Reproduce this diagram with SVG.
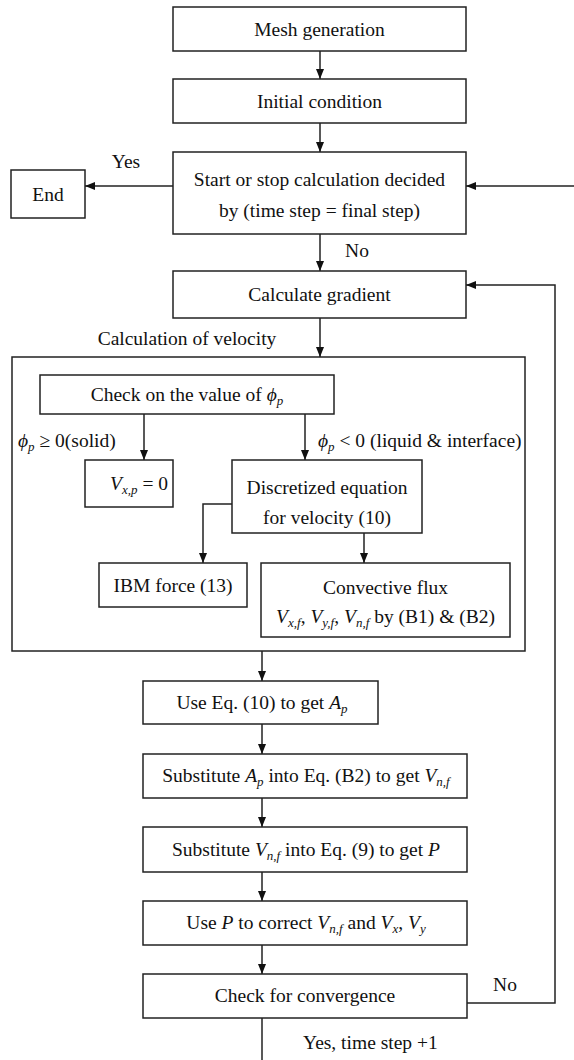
<svg xmlns="http://www.w3.org/2000/svg" width="574" height="1060" viewBox="0 0 574 1060">
<style>
.b{fill:#fff;stroke:#222;stroke-width:1.5}
.c{fill:none;stroke:#222;stroke-width:1.5}
text{font-family:"Liberation Serif","Times New Roman",serif;font-size:19.5px;fill:#111}
.m{text-anchor:middle}
.i{font-style:italic}
.s{font-style:italic;font-size:13px}
</style>
<defs>
<marker id="a" viewBox="0 0 10 10" refX="10" refY="5" markerWidth="10" markerHeight="10" markerUnits="userSpaceOnUse" orient="auto">
<path d="M0,1 L10,5 L0,9 z" fill="#111"/>
</marker>
</defs>
<rect width="574" height="1060" fill="#fff"/>
<g id="connectors">
<line class="c" x1="320" y1="51" x2="320" y2="79" marker-end="url(#a)"/>
<line class="c" x1="320" y1="123" x2="320" y2="152" marker-end="url(#a)"/>
<line class="c" x1="173" y1="186" x2="85" y2="186" marker-end="url(#a)"/>
<line class="c" x1="574" y1="186" x2="466" y2="186" marker-end="url(#a)"/>
<line class="c" x1="320" y1="234" x2="320" y2="271" marker-end="url(#a)"/>
<line class="c" x1="320" y1="318" x2="320" y2="357" marker-end="url(#a)"/>
<line class="c" x1="144" y1="414" x2="144" y2="460" marker-end="url(#a)"/>
<line class="c" x1="305" y1="414" x2="305" y2="460" marker-end="url(#a)"/>
<polyline class="c" points="232,504 203,504 203,563" marker-end="url(#a)"/>
<line class="c" x1="364" y1="533" x2="364" y2="563" marker-end="url(#a)"/>
<line class="c" x1="262" y1="651" x2="262" y2="681" marker-end="url(#a)"/>
<line class="c" x1="262" y1="724" x2="262" y2="754" marker-end="url(#a)"/>
<line class="c" x1="262" y1="798" x2="262" y2="827" marker-end="url(#a)"/>
<line class="c" x1="262" y1="872" x2="262" y2="901" marker-end="url(#a)"/>
<line class="c" x1="262" y1="945" x2="262" y2="974" marker-end="url(#a)"/>
<line class="c" x1="262" y1="1018" x2="262" y2="1060"/>
<polyline class="c" points="467,1003 555,1003 555,285 466,285" marker-end="url(#a)"/>
</g>
<g id="mesh"><rect class="b" x="173" y="7" width="293" height="44"/><text x="319.5" y="35.5" class="m">Mesh generation</text></g>
<g id="initial"><rect class="b" x="173" y="79" width="293" height="44"/><text x="319.5" y="107.5" class="m">Initial condition</text></g>
<g id="startstop"><rect class="b" x="173" y="152" width="293" height="82"/><text x="319.5" y="185.5" class="m">Start or stop calculation decided</text><text x="319.5" y="216.5" class="m">by (time step = final step)</text></g>
<g id="end"><rect class="b" x="11" y="170" width="74" height="48"/><text x="48" y="200.5" class="m">End</text></g>
<g id="gradient"><rect class="b" x="173" y="271" width="293" height="47"/><text x="319.5" y="301" class="m">Calculate gradient</text></g>
<g id="velocity"><rect class="c" x="12" y="357" width="513" height="294"/></g>
<g id="check"><rect class="b" x="40" y="375" width="294" height="39"/><text x="187" y="401" class="m">Check on the value of <tspan class="i">ϕ</tspan><tspan class="s" dy="4">p</tspan></text></g>
<g id="vxp"><rect class="b" x="85" y="460" width="88" height="47"/><text x="168" y="490" text-anchor="end"><tspan class="i">V</tspan><tspan class="s" dy="4">x,p</tspan><tspan dy="-4"> = 0</tspan></text></g>
<g id="discretized"><rect class="b" x="232" y="460" width="190" height="73"/><text x="327" y="494" class="m">Discretized equation</text><text x="327" y="524" class="m">for velocity (10)</text></g>
<g id="ibm"><rect class="b" x="99" y="563" width="148" height="44"/><text x="173" y="591.5" class="m">IBM force (13)</text></g>
<g id="convective"><rect class="b" x="261" y="563" width="249" height="74"/><text x="385.5" y="594" class="m">Convective flux</text><text x="385.5" y="623" class="m"><tspan class="i">V</tspan><tspan class="s" dy="4">x,f</tspan><tspan dy="-4">, </tspan><tspan class="i">V</tspan><tspan class="s" dy="4">y,f</tspan><tspan dy="-4">, </tspan><tspan class="i">V</tspan><tspan class="s" dy="4">n,f</tspan><tspan dy="-4"> by (B1) &amp; (B2)</tspan></text></g>
<g id="useeq"><rect class="b" x="143" y="681" width="235" height="43"/><text x="262" y="709" class="m">Use Eq. (10) to get <tspan class="i">A</tspan><tspan class="s" dy="4">p</tspan></text></g>
<g id="subap"><rect class="b" x="143" y="754" width="324" height="44"/><text x="306" y="782" class="m">Substitute <tspan class="i">A</tspan><tspan class="s" dy="4">p</tspan><tspan dy="-4"> into Eq. (B2) to get </tspan><tspan class="i">V</tspan><tspan class="s" dy="4">n,f</tspan></text></g>
<g id="subvnf"><rect class="b" x="143" y="827" width="324" height="45"/><text x="306" y="856" class="m">Substitute <tspan class="i">V</tspan><tspan class="s" dy="4">n,f</tspan><tspan dy="-4"> into Eq. (9) to get </tspan><tspan class="i">P</tspan></text></g>
<g id="usep"><rect class="b" x="143" y="901" width="324" height="44"/><text x="306" y="929" class="m">Use <tspan class="i">P</tspan> to correct <tspan class="i">V</tspan><tspan class="s" dy="4">n,f</tspan><tspan dy="-4"> and </tspan><tspan class="i">V</tspan><tspan class="s" dy="4">x</tspan><tspan dy="-4">, </tspan><tspan class="i">V</tspan><tspan class="s" dy="4">y</tspan></text></g>
<g id="converge"><rect class="b" x="143" y="974" width="324" height="44"/><text x="305" y="1002" class="m">Check for convergence</text></g>
<g id="labels">
<text x="126" y="168" class="m">Yes</text>
<text x="357" y="257" class="m">No</text>
<text x="505" y="991" class="m">No</text>
<text x="303" y="1049">Yes, time step +1</text>
<text x="187" y="345" class="m">Calculation of velocity</text>
<text x="18" y="447"><tspan class="i">ϕ</tspan><tspan class="s" dy="4">p</tspan><tspan dy="-4"> ≥ 0(solid)</tspan></text>
<text x="318" y="447"><tspan class="i">ϕ</tspan><tspan class="s" dy="4">p</tspan><tspan dy="-4"> &lt; 0 (liquid &amp; interface)</tspan></text>
</g>
</svg>
